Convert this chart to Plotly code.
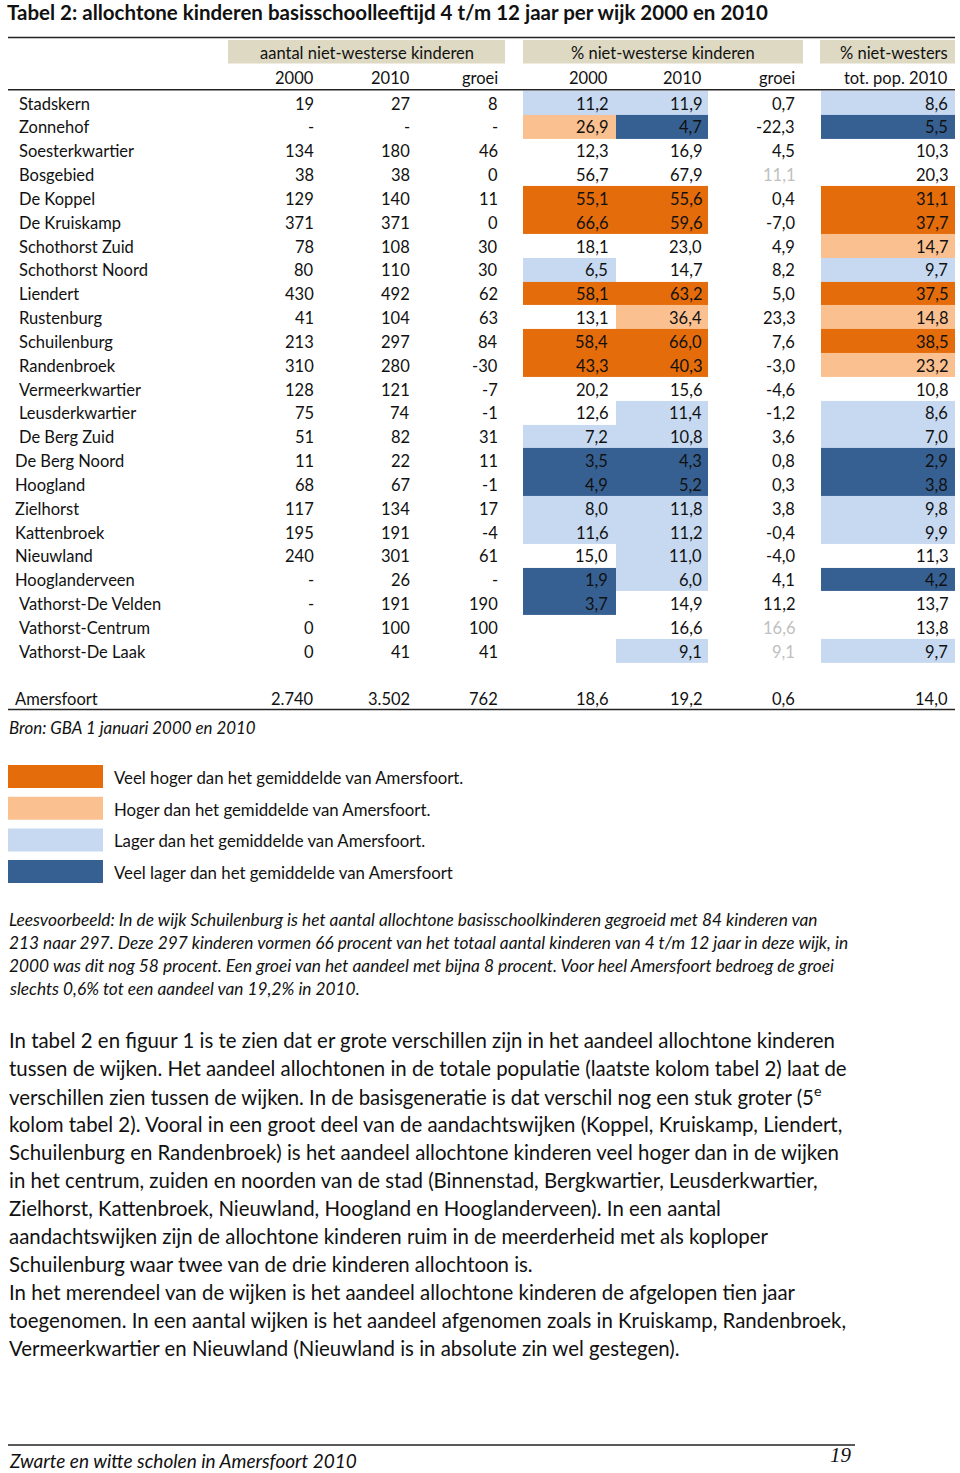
import plotly.graph_objects as go

W, H = 960, 1473

# ---------------- data ----------------
title = "Tabel 2: allochtone kinderen basisschoolleeftijd 4 t/m 12 jaar per wijk 2000 en 2010"
group_labels = ["aantal niet-westerse kinderen", "% niet-westerse kinderen", "% niet-westers"]
sub_labels = ["2000", "2010", "groei", "2000", "2010", "groei", "tot. pop. 2010"]

wijken = ["Stadskern", "Zonnehof", "Soesterkwartier", "Bosgebied", "De Koppel", "De Kruiskamp",
          "Schothorst Zuid", "Schothorst Noord", "Liendert", "Rustenburg", "Schuilenburg",
          "Randenbroek", "Vermeerkwartier", "Leusderkwartier", "De Berg Zuid", "De Berg Noord",
          "Hoogland", "Zielhorst", "Kattenbroek", "Nieuwland", "Hooglanderveen",
          "Vathorst-De Velden", "Vathorst-Centrum", "Vathorst-De Laak"]
# rows whose name sits a little further left in the source
outdented = ["De Berg Noord", "Hoogland", "Zielhorst", "Kattenbroek", "Nieuwland", "Hooglanderveen"]

n2000 = [19, None, 134, 38, 129, 371, 78, 80, 430, 41, 213, 310, 128, 75, 51, 11, 68, 117, 195, 240, None, None, 0, 0]
n2010 = [27, None, 180, 38, 140, 371, 108, 110, 492, 104, 297, 280, 121, 74, 82, 22, 67, 134, 191, 301, 26, 191, 100, 41]
ngroei = [8, None, 46, 0, 11, 0, 30, 30, 62, 63, 84, -30, -7, -1, 31, 11, -1, 17, -4, 61, None, 190, 100, 41]
p2000 = [11.2, 26.9, 12.3, 56.7, 55.1, 66.6, 18.1, 6.5, 58.1, 13.1, 58.4, 43.3, 20.2, 12.6, 7.2, 3.5, 4.9, 8.0, 11.6, 15.0, 1.9, 3.7, None, None]
p2010 = [11.9, 4.7, 16.9, 67.9, 55.6, 59.6, 23.0, 14.7, 63.2, 36.4, 66.0, 40.3, 15.6, 11.4, 10.8, 4.3, 5.2, 11.8, 11.2, 11.0, 6.0, 14.9, 16.6, 9.1]
pgroei = [0.7, -22.3, 4.5, 11.1, 0.4, -7.0, 4.9, 8.2, 5.0, 23.3, 7.6, -3.0, -4.6, -1.2, 3.6, 0.8, 0.3, 3.8, -0.4, -4.0, 4.1, 11.2, 16.6, 9.1]
ptot = [8.6, 5.5, 10.3, 20.3, 31.1, 37.7, 14.7, 9.7, 37.5, 14.8, 38.5, 23.2, 10.8, 8.6, 7.0, 2.9, 3.8, 9.8, 9.9, 11.3, 4.2, 13.7, 13.8, 9.7]
grey_groei = ["Bosgebied", "Vathorst-Centrum", "Vathorst-De Laak"]

# classes: 0 = veel hoger, 1 = hoger, 2 = lager, 3 = veel lager, None = no fill
cls_p2000 = [2, 1, None, None, 0, 0, None, 2, 0, None, 0, 0, None, None, 2, 3, 3, 2, 2, None, 3, 3, None, None]
cls_p2010 = [2, 3, None, None, 0, 0, None, None, 0, 1, 0, 0, None, 2, 2, 3, 3, 2, 2, 2, 2, None, None, 2]
cls_ptot = [2, 3, None, None, 0, 0, 1, 2, 0, 1, 0, 1, None, 2, 2, 3, 3, 2, 2, None, 3, None, None, 2]

total_label = "Amersfoort"
total_values = [2740, 3502, 762, 18.6, 19.2, 0.6, 14.0]

source = "Bron: GBA 1 januari 2000 en 2010"
legend_labels = ["Veel hoger dan het gemiddelde van Amersfoort.",
                 "Hoger dan het gemiddelde van Amersfoort.",
                 "Lager dan het gemiddelde van Amersfoort.",
                 "Veel lager dan het gemiddelde van Amersfoort"]
class_colors = ["#E46C0A", "#FAC090", "#C6D9F1", "#376092"]

example_lines = [
    "Leesvoorbeeld: In de wijk Schuilenburg is het aantal allochtone basisschoolkinderen gegroeid met 84 kinderen van",
    "213 naar 297. Deze 297 kinderen vormen 66 procent van het totaal aantal kinderen van 4 t/m 12 jaar in deze wijk, in",
    "2000 was dit nog 58 procent. Een groei van het aandeel met bijna 8 procent. Voor heel Amersfoort bedroeg de groei",
    "slechts 0,6% tot een aandeel van 19,2% in 2010.",
]
body_lines = [
    "In tabel 2 en figuur 1 is te zien dat er grote verschillen zijn in het aandeel allochtone kinderen",
    "tussen de wijken. Het aandeel allochtonen in de totale populatie (laatste kolom tabel 2) laat de",
    "verschillen zien tussen de wijken. In de basisgeneratie is dat verschil nog een stuk groter (5<sup>e</sup>",
    "kolom tabel 2). Vooral in een groot deel van de aandachtswijken (Koppel, Kruiskamp, Liendert,",
    "Schuilenburg en Randenbroek) is het aandeel allochtone kinderen veel hoger dan in de wijken",
    "in het centrum, zuiden en noorden van de stad (Binnenstad, Bergkwartier, Leusderkwartier,",
    "Zielhorst, Kattenbroek, Nieuwland, Hoogland en Hooglanderveen). In een aantal",
    "aandachtswijken zijn de allochtone kinderen ruim in de meerderheid met als koploper",
    "Schuilenburg waar twee van de drie kinderen allochtoon is.",
    "In het merendeel van de wijken is het aandeel allochtone kinderen de afgelopen tien jaar",
    "toegenomen. In een aantal wijken is het aandeel afgenomen zoals in Kruiskamp, Randenbroek,",
    "Vermeerkwartier en Nieuwland (Nieuwland is in absolute zin wel gestegen).",
]
footer_text = "Zwarte en witte scholen in Amersfoort 2010"
page_number = "19"

# ---------------- layout constants ----------------
FONT = "Lato"
TXT = "#111111"
TABLE_FS = 16.5
row0_y = 102.8
row_h = 23.83
text_dy = 0.8
col_right = [315, 411, 499, 609, 703, 796, 949]
name_x = 18
cell_edges = [523, 616, 708, 821, 955]
bands = [(228, 505), (523, 803), (820, 955)]


def fmt_int(v):
    if v is None:
        return "-"
    s = f"{abs(v):,}".replace(",", ".")
    return ("-" if v < 0 else "") + s


def fmt_dec(v):
    if v is None:
        return ""
    return f"{v:.1f}".replace(".", ",")


def row_y(i):
    return row0_y + i * row_h


fig = go.Figure()

# coloured cells as a discrete heatmap
z = []
for i in range(len(wijken)):
    z.append([cls_p2000[i], cls_p2010[i], None, cls_ptot[i]])
y_edges = [row0_y - row_h / 2 + k * row_h for k in range(len(wijken) + 1)]
cs = []
nc = len(class_colors)
for k, c in enumerate(class_colors):
    cs.append([k / nc, c])
    cs.append([(k + 1) / nc, c])
fig.add_trace(go.Heatmap(
    z=z, x=cell_edges, y=y_edges, zmin=-0.5, zmax=nc - 0.5,
    colorscale=cs, showscale=False, hoverinfo="skip", xgap=0, ygap=0,
))

shapes = []
ann = []


def add_text(x, y, text, size=TABLE_FS, anchor="left", color=TXT, family=FONT, italic=False, bold=False):
    t = text
    if bold:
        t = f"<b>{t}</b>"
    if italic:
        t = f"<i>{t}</i>"
    ann.append(dict(x=x, y=y, xref="x", yref="y", text=t, showarrow=False,
                    xanchor=anchor, yanchor="middle", borderpad=0,
                    font=dict(family=family, size=size, color=color)))


# title
add_text(6, 12, title, size=20.5, bold=True)

# header bands
for (a, b) in bands:
    shapes.append(dict(type="rect", xref="x", yref="y", x0=a, x1=b, y0=40, y1=63.5,
                       fillcolor="#DDD9C3", line=dict(width=0), layer="below"))
add_text((bands[0][0] + bands[0][1]) / 2, 52.8, group_labels[0], anchor="center")
add_text((bands[1][0] + bands[1][1]) / 2, 52.8, group_labels[1], anchor="center")
add_text(col_right[6], 52.8, group_labels[2], anchor="right")
for k, lab in enumerate(sub_labels):
    add_text(col_right[k], 78, lab, anchor="right")

# horizontal rules
for yy in [37.5, 89.8, 709.5]:
    shapes.append(dict(type="line", xref="x", yref="y", x0=8, x1=955, y0=yy, y1=yy,
                       line=dict(color="#222222", width=1.6)))

# body rows
for i, name in enumerate(wijken):
    y = row_y(i) + text_dy
    add_text(name_x - (4 if name in outdented else 0), y, name)
    vals = [fmt_int(n2000[i]), fmt_int(n2010[i]), fmt_int(ngroei[i]),
            fmt_dec(p2000[i]), fmt_dec(p2010[i]), fmt_dec(pgroei[i]), fmt_dec(ptot[i])]
    for k, v in enumerate(vals):
        if v == "":
            continue
        col = "#BFBFBF" if (k == 5 and name in grey_groei) else TXT
        add_text(col_right[k], y, v, anchor="right", color=col)

# total row
ty = row_y(len(wijken) + 1) + text_dy
add_text(14, ty, total_label)
tv = [fmt_int(total_values[0]), fmt_int(total_values[1]), fmt_int(total_values[2]),
      fmt_dec(total_values[3]), fmt_dec(total_values[4]), fmt_dec(total_values[5]), fmt_dec(total_values[6])]
for k, v in enumerate(tv):
    add_text(col_right[k], ty, v, anchor="right")

# source
add_text(8, 727.5, source, size=16.9, italic=True)

# legend
for k, (lab, c) in enumerate(zip(legend_labels, class_colors)):
    yc = 776.5 + k * 31.7
    shapes.append(dict(type="rect", xref="x", yref="y", x0=8, x1=103, y0=yc - 11.5, y1=yc + 11.5,
                       fillcolor=c, line=dict(width=0)))
    add_text(113, yc + 0.8, lab, size=16.8)

# reading example
for k, line in enumerate(example_lines):
    add_text(8, 919.5 + k * 23, line, size=17.3, italic=True)

# body text
for k, line in enumerate(body_lines):
    add_text(8, 1039.5 + k * 28, line, size=20.4)

# footer
shapes.append(dict(type="line", xref="x", yref="y", x0=8, x1=855, y0=1445, y1=1445,
                   line=dict(color="#222222", width=1.6)))
add_text(8, 1460, footer_text, size=19, italic=True)
add_text(853, 1455, page_number, size=21, anchor="right", italic=True, family="Liberation Serif")

fig.update_layout(
    width=W, height=H, margin=dict(l=0, r=0, t=0, b=0),
    paper_bgcolor="white", plot_bgcolor="white",
    xaxis=dict(range=[0, W], visible=False, fixedrange=True),
    yaxis=dict(range=[H, 0], visible=False, fixedrange=True),
    shapes=shapes, annotations=ann, showlegend=False,
)

fig.write_html("out.html", config={"displayModeBar": False},
               post_script="document.body.style.margin='0';document.body.style.overflow='hidden';")
